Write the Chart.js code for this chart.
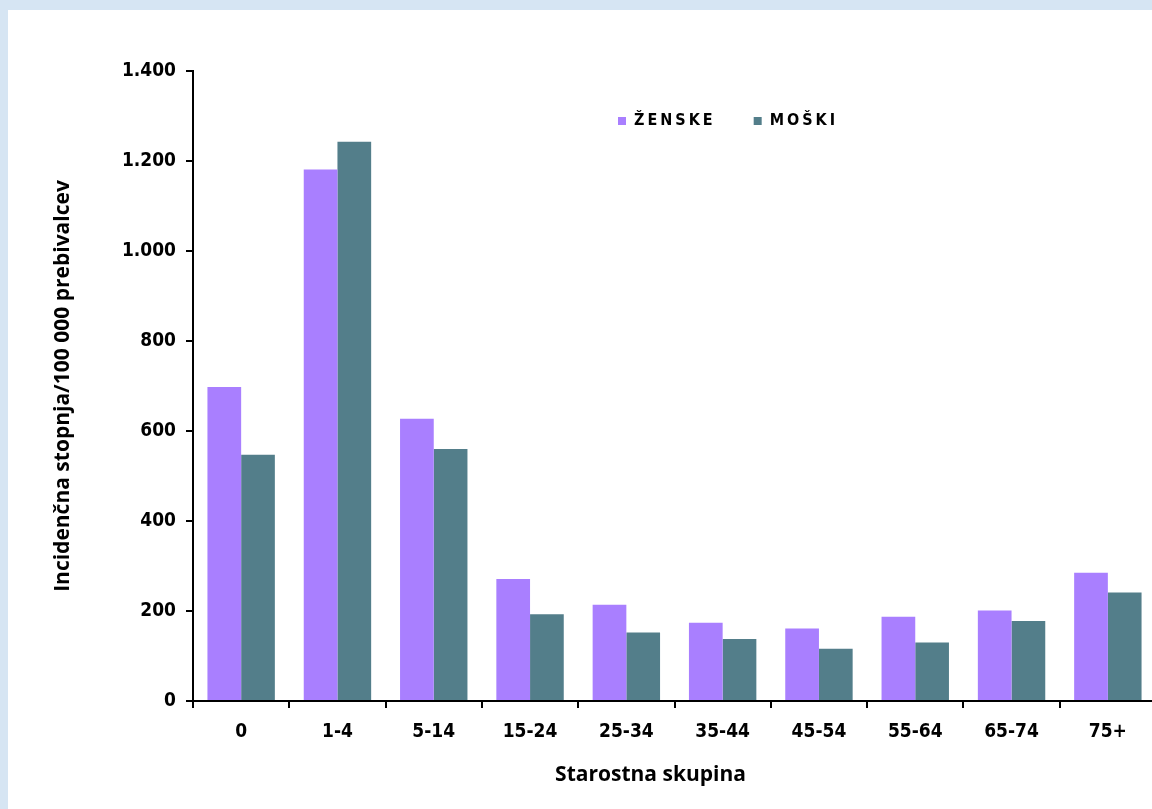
<!DOCTYPE html>
<html>
<head>
<meta charset="utf-8">
<script src="https://cdn.jsdelivr.net/npm/chart.js@4.4.1/dist/chart.umd.min.js"></script>
<style>
  html, body { margin: 0; padding: 0; width: 1152px; height: 809px; overflow: hidden;
    background: #d6e5f3; }
  #panel { position: absolute; left: 8px; top: 10px; width: 1160px; height: 810px; background: #ffffff; }
  #c { position: absolute; left: 0; top: 0; }
</style>
</head>
<body>
<div id="panel"></div>
<canvas id="c" width="1170" height="809" style="width:1170px;height:809px"></canvas>
<script>
const categories = ['0', '1-4', '5-14', '15-24', '25-34', '35-44', '45-54', '55-64', '65-74', '75+'];
const zenske = [698, 1181, 627, 271, 214, 174, 161, 187, 201, 285];
const moski  = [547, 1243, 560, 193, 152, 138, 116, 130, 178, 241];
const yTickLabels = ['0', '200', '400', '600', '800', '1.000', '1.200', '1.400'];
const seriesNames = ['ŽENSKE', 'MOŠKI'];

const tickFont = { family: "'DejaVu Sans Condensed', 'DejaVu Sans', sans-serif", size: 19, weight: 'bold' };
const titleFont = { family: "'Open Sans', sans-serif", size: 21, weight: 'bold' };

const legendPatch = {
  id: 'legendPatch',
  afterInit(chart) {
    const lg = chart.legend;
    if (!lg) return;
    const origFit = lg.fit.bind(lg);
    lg.fit = function () {
      const ctx = this.ctx;
      const prev = ctx.letterSpacing;
      ctx.letterSpacing = '3px';
      origFit();
      ctx.letterSpacing = prev || '0px';
      this.height = 0;
    };
    lg.draw = function () {
      const ctx = this.ctx;
      ctx.save();
      ctx.letterSpacing = '3px';
      ctx.translate(580, 4);
      this._draw();
      ctx.restore();
    };
  },
  afterUpdate(chart) {
    const xs = chart.scales.x;
    if (xs && !xs._patched) {
      const orig = xs.drawTitle.bind(xs);
      xs.drawTitle = function () {
        const ctx = this.ctx;
        ctx.save();
        ctx.translate(-24, 0);
        orig();
        ctx.restore();
      };
      xs._patched = true;
    }
  }
};

new Chart(document.getElementById('c'), {
  type: 'bar',
  data: {
    labels: categories,
    datasets: [
      { label: seriesNames[0], data: zenske, backgroundColor: '#a97fff', borderWidth: 0 },
      { label: seriesNames[1], data: moski, backgroundColor: '#537e8a', borderWidth: 0 }
    ]
  },
  options: {
    responsive: false,
    animation: false,
    devicePixelRatio: 1,
    layout: { padding: { left: 0, top: 71, right: 14, bottom: 0 } },
    datasets: { bar: { categoryPercentage: 0.7, barPercentage: 1.0 } },
    plugins: {
      legend: {
        display: true,
        position: 'top',
        align: 'start',
        labels: {
          boxWidth: 8, boxHeight: 8, padding: 38,
          color: '#000',
          font: { family: "'DejaVu Sans Condensed', 'DejaVu Sans', sans-serif", size: 16, weight: 'bold' }
        }
      },
      tooltip: { enabled: false }
    },
    scales: {
      x: {
        grid: { display: true, drawOnChartArea: false, drawTicks: true, tickLength: 7, color: '#000', lineWidth: 2, offset: true },
        border: { display: true, color: '#000', width: 2 },
        ticks: { color: '#000', font: tickFont, padding: 13, maxRotation: 0 },
        title: { display: true, text: 'Starostna skupina', color: '#000', font: titleFont, padding: { top: 0, bottom: 21 } },
        afterFit(scale) { scale.height = 108; }
      },
      y: {
        min: 0, max: 1400,
        grid: { display: true, drawOnChartArea: false, drawTicks: true, tickLength: 7, color: '#000', lineWidth: 2 },
        border: { display: true, color: '#000', width: 2 },
        ticks: { stepSize: 200, color: '#000', font: tickFont, padding: 10,
          callback: (v, i) => yTickLabels[i] },
        title: { display: true, text: 'Incidenčna stopnja/100 000 prebivalcev', color: '#000', font: titleFont, padding: { top: 50, bottom: 0 } },
        afterFit(scale) { scale.width = 193; }
      }
    }
  },
  plugins: [legendPatch]
});
</script>
</body>
</html>
